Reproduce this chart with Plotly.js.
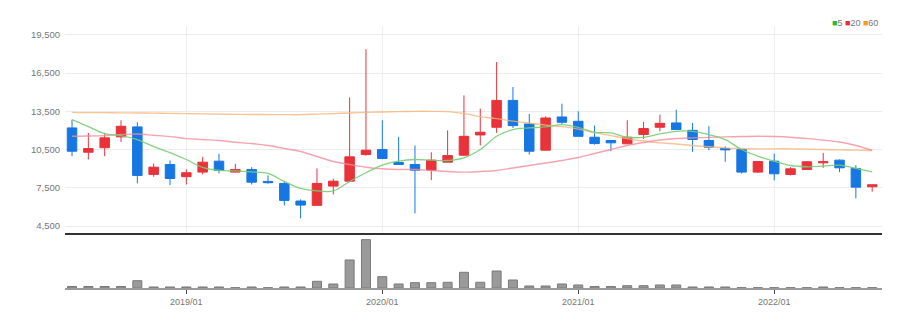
<!DOCTYPE html>
<html>
<head>
<meta charset="utf-8">
<script src="https://cdn.plot.ly/plotly-3.0.1.min.js"></script>
<style>
html,body{margin:0;padding:0;background:#fff;}
#chart{width:921px;height:323px;}
</style>
</head>
<body>
<div id="chart"></div>
<script>
const months = ['2018-06','2018-07','2018-08','2018-09','2018-10','2018-11','2018-12',
 '2019-01','2019-02','2019-03','2019-04','2019-05','2019-06','2019-07','2019-08','2019-09','2019-10','2019-11','2019-12',
 '2020-01','2020-02','2020-03','2020-04','2020-05','2020-06','2020-07','2020-08','2020-09','2020-10','2020-11','2020-12',
 '2021-01','2021-02','2021-03','2021-04','2021-05','2021-06','2021-07','2021-08','2021-09','2021-10','2021-11','2021-12',
 '2022-01','2022-02','2022-03','2022-04','2022-05','2022-06','2022-07'];

const openP  = [12200,10290,10640,11500,12280,8550,9330,8370,8730,9590,8730,8940,8000,7840,6460,6120,7630,8020,10110,10500,9490,9330,8880,9510,10060,11650,12250,14360,12510,10450,13060,12720,11470,11210,10950,11680,12250,12590,12010,11210,10580,10500,8730,9590,8550,8940,9460,9670,9020,7580];
const highP  = [12850,11810,11810,12800,12640,9410,9640,8940,9930,10170,9380,9120,8470,8020,6590,9020,8210,14600,18380,12800,11500,10820,10290,12010,14750,13710,17370,15410,13300,13110,14100,13500,12380,11210,12800,12670,13240,13630,12590,12330,10760,10500,9590,10190,9120,9590,10240,9720,9270,7740];
const lowP   = [9980,9720,9980,11100,7840,8370,7710,7760,8550,8620,8730,7760,7820,6120,5100,6120,6980,7940,10030,9750,9330,5490,8100,9510,9980,10820,11810,12200,10110,10450,12510,11540,10890,10370,10950,11340,11940,12070,10320,10450,9540,8620,8660,8080,8470,8910,9070,8730,6670,7190];
const closeP = [10370,10580,11420,12330,8470,9120,8230,8680,9510,8860,8940,7940,7900,6510,6140,7840,8020,9930,10450,9800,9330,8880,9670,10030,11540,11860,14360,12380,10370,12980,12640,11540,10970,11030,11470,12150,12560,12070,11290,10680,10480,8730,9560,8600,8990,9540,9540,9070,7550,7740];

const ma5  = [12850,12303,11755,11598,11285,10737,10268,9720,9094,8859,8820,8742,8624,7998,7450,7255,7255,7998,8679,9274,9587,9720,9665,9642,9853,10503,11543,12068,12201,12279,12459,12248,11857,11810,11465,11465,11731,11935,11935,11677,11285,10503,9978,9587,9250,9149,9196,9274,9016,8757];
const ma20 = [11543,11559,11598,11677,11716,11622,11520,11363,11285,11207,11074,10972,10816,10581,10346,9955,9563,9329,9117,8992,8937,8937,8859,8781,8726,8781,8859,9055,9250,9446,9642,9877,10190,10503,10816,11050,11246,11363,11418,11457,11497,11520,11543,11520,11465,11363,11246,11090,10816,10424];
const ma60 = [13422,13398,13398,13383,13375,13359,13343,13320,13304,13281,13265,13257,13242,13242,13242,13281,13320,13375,13422,13453,13477,13500,13500,13477,13320,13085,12929,12733,12577,12420,12303,12107,11833,11598,11363,11168,11027,10933,10816,10722,10636,10581,10557,10557,10557,10534,10503,10479,10456,10424];

const volume = [15000,15000,15000,15000,73000,10000,10000,10000,10000,10000,3000,10000,3000,10000,10000,67000,40000,280000,483000,113000,40000,53000,53000,57000,157000,57000,170000,80000,20000,20000,40000,30000,15000,15000,23000,23000,30000,30000,10000,10000,10000,3000,3000,3000,3000,3000,10000,3000,3000,3000];

const priceTicks = [4500,7500,10500,13500,16500,19500];
const xTickVals = ['2019-01','2020-01','2021-01','2022-01'];
const xTickText = ['2019/01','2020/01','2021/01','2022/01'];

const RED = '#e8333b', BLUE = '#1677e3';
const fontFam = '"Liberation Sans Narrow", "Liberation Sans", Arial, sans-serif';

const traces = [
  {type:'scatter', mode:'lines', x:months, y:ma60, line:{color:'rgba(248,180,120,0.8)', width:1.4, shape:'spline'}, xaxis:'x', yaxis:'y', hoverinfo:'skip', showlegend:false},
  {type:'scatter', mode:'lines', x:months, y:ma20, line:{color:'rgba(242,140,155,0.8)', width:1.4, shape:'spline'}, xaxis:'x', yaxis:'y', hoverinfo:'skip', showlegend:false},
  {type:'scatter', mode:'lines', x:months, y:ma5, line:{color:'rgba(120,205,120,0.9)', width:1.3, shape:'spline'}, xaxis:'x', yaxis:'y', hoverinfo:'skip', showlegend:false},
  {type:'candlestick', x:months, open:openP, high:highP, low:lowP, close:closeP,
   increasing:{line:{color:RED, width:1}, fillcolor:RED},
   decreasing:{line:{color:BLUE, width:1}, fillcolor:BLUE},
   xaxis:'x', yaxis:'y', hoverinfo:'skip', showlegend:false},
  {type:'bar', x:months, y:volume, marker:{color:'#9a9a9a', line:{color:'#7a7a7a', width:1}}, width:0.55,
   xaxis:'x2', yaxis:'y2', hoverinfo:'skip', showlegend:false}
];

const layout = {
  width:921, height:323,
  margin:{l:65, r:39, t:20, b:35},
  paper_bgcolor:'#fff', plot_bgcolor:'#fff',
  boxgap:0.17, boxgroupgap:0.3,
  showlegend:false,
  font:{family:fontFam, size:10, color:'#777'},
  xaxis:{type:'category', domain:[0,1], anchor:'y', range:[-0.43,49.6],
    rangeslider:{visible:false}, showticklabels:false,
    tickvals:xTickVals, showgrid:true, gridcolor:'#efefef', gridwidth:1,
    showline:true, linecolor:'#333', linewidth:2, ticks:'', zeroline:false},
  yaxis:{domain:[0.2052,0.9776], range:[3950,20200], tickvals:priceTicks, tickformat:',d',
    showgrid:true, gridcolor:'#ececec', gridwidth:1, zeroline:false, showline:false,
    ticks:'', tickfont:{family:fontFam, size:9.5, color:'#777'}, ticklabelstandoff:4},
  xaxis2:{type:'category', domain:[0,1], anchor:'y2', matches:'x', range:[-0.43,49.6],
    tickvals:xTickVals, ticktext:xTickText, showgrid:false,
    showline:true, linecolor:'#9a9a9a', linewidth:2, ticks:'outside', ticklen:4, tickcolor:'#444', tickwidth:1,
    tickfont:{family:fontFam, size:9, color:'#777'}, zeroline:false},
  yaxis2:{domain:[0,0.183], range:[0,490000], showticklabels:false, showgrid:false, zeroline:false, showline:false, ticks:''},
  annotations:[{
    xref:'paper', yref:'paper', x:0.998, y:0.989, xanchor:'right', yanchor:'middle', showarrow:false,
    text:'<span style="color:#22bb33">■</span>5 <span style="color:#ee2b3b">■</span>20 <span style="color:#f59a23">■</span>60',
    font:{family:fontFam, size:9, color:'#777'}
  }]
};

Plotly.newPlot('chart', traces, layout, {staticPlot:true, displayModeBar:false});
</script>
</body>
</html>
